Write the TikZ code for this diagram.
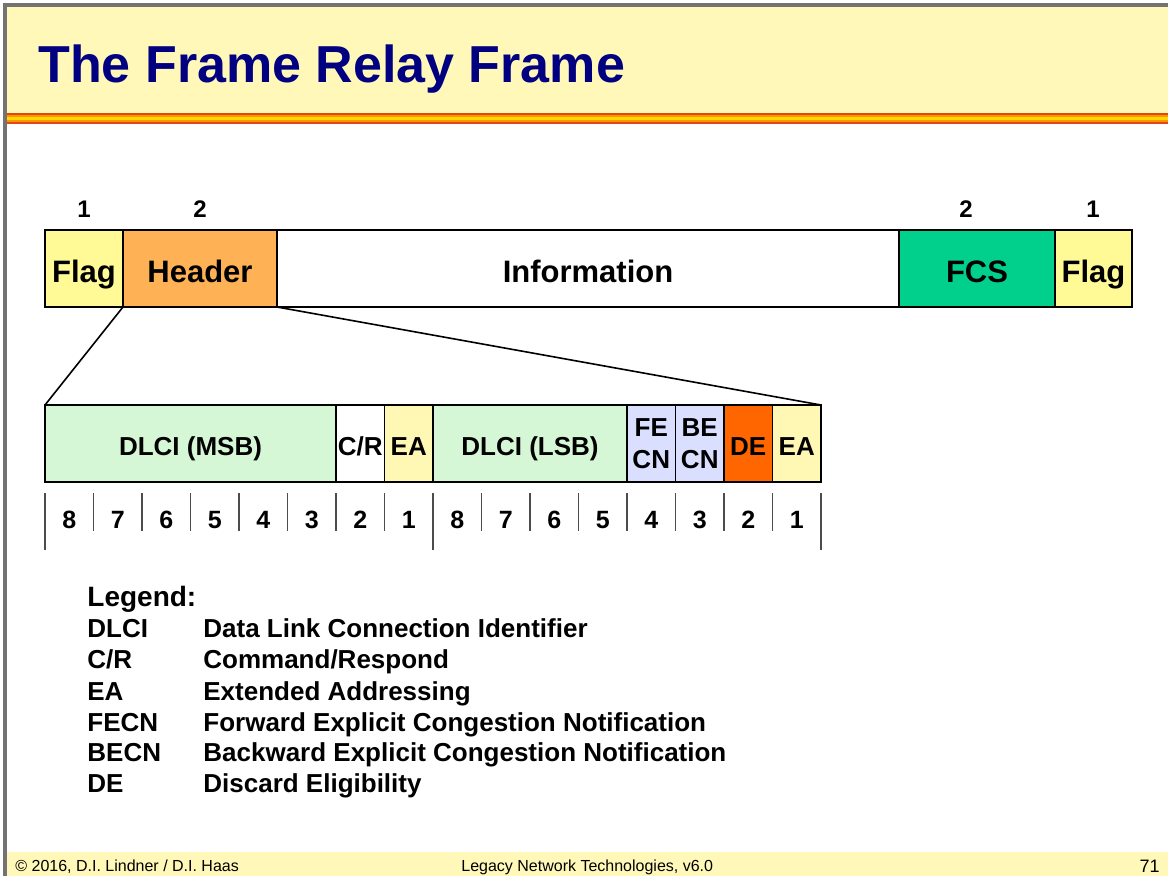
\documentclass[tikz,border=0pt]{standalone}
\usepackage{fontspec}
\setmainfont{Liberation Sans}
\definecolor{titleyel}{RGB}{255,248,185}
\definecolor{navy}{RGB}{0,0,128}
\definecolor{stripered}{RGB}{226,70,20}
\definecolor{stripeorg}{RGB}{250,150,0}
\definecolor{stripeyel}{RGB}{255,215,0}
\definecolor{flagyel}{RGB}{255,250,150}
\definecolor{hdrorange}{RGB}{255,178,85}
\definecolor{fcsgreen}{RGB}{0,208,140}
\definecolor{dlcigreen}{RGB}{214,247,214}
\definecolor{eayel}{RGB}{255,247,180}
\definecolor{cnblue}{RGB}{218,222,255}
\definecolor{deorange}{RGB}{255,102,0}
\begin{document}
\begin{tikzpicture}[x=1pt, y=-1pt, thick,
    field/.style={draw, line width=1.8pt, inner sep=0pt, outer sep=0pt, minimum height=77pt,
      font=\bfseries\fontsize{31}{34}\selectfont, text height=27pt, text depth=0pt},
    subfield/.style={draw, line width=1.8pt, inner sep=0pt, outer sep=0pt, minimum height=77pt,
      font=\bfseries\fontsize{26}{32}\selectfont},
    oneline/.style={text height=23pt, text depth=0pt},
    bytes/.style={anchor=base, font=\bfseries\fontsize{24}{28}\selectfont},
    bitnum/.style={anchor=base, font=\bfseries\fontsize{25}{28}\selectfont},
    tick/.style={draw=black!70, line width=1.2pt},
    legabbr/.style={anchor=base west, inner sep=0pt, font=\bfseries\fontsize{26}{30}\selectfont},
    footer/.style={anchor=base west, inner sep=0pt, font=\fontsize{16}{19}\selectfont}]
  \useasboundingbox (0,0) rectangle (1168,876);

  % 1. title bar and footer
  \fill[titleyel] (5,5) rectangle (1168,113);
  \fill[stripered] (5,112.5) rectangle (1168,123.5);
  \fill[stripeorg] (5,115) rectangle (1168,122);
  \fill[stripeyel] (5,117) rectangle (1168,120);
  \fill[titleyel] (5,852) rectangle (1168,876);
  \draw[black!55, line width=4pt] (5,876) -- (5,5) -- (1168,5);
  \node[anchor=base west, inner sep=0pt, text=navy, font=\bfseries\fontsize{52}{60}\selectfont] (title) at (38,82) {The Frame Relay Frame};

  % 2. frame
  \node[field, fill=flagyel, minimum width=78pt] (flagl) at (84,268.5) {Flag};
  \node[field, fill=hdrorange, minimum width=154pt] (hdr) at (200,268.5) {Header};
  \node[field, fill=white, minimum width=622pt] (info) at (588,268.5) {Information};
  \node[field, fill=fcsgreen, minimum width=156pt] (fcs) at (977,268.5) {FCS};
  \node[field, fill=flagyel, minimum width=77pt] (flagr) at (1093.5,268.5) {Flag};
  \node[bytes] (nflagl) at (84,217) {1};
  \node[bytes] (nhdr) at (200,217) {2};
  \node[bytes] (nfcs) at (966,217) {2};
  \node[bytes] (nflagr) at (1093,217) {1};

  % 3. header fields
  \node[subfield, oneline, fill=dlcigreen, minimum width=291pt] (msb) at (190.5,443.5) {DLCI (MSB)};
  \node[subfield, oneline, fill=white, minimum width=48.5pt] (cr) at (360.25,443.5) {C/R};
  \node[subfield, oneline, fill=eayel, minimum width=48.5pt] (eal) at (408.75,443.5) {EA};
  \node[subfield, oneline, fill=dlcigreen, minimum width=194pt] (lsb) at (530,443.5) {DLCI (LSB)};
  \node[subfield, fill=cnblue, minimum width=48.5pt, align=center] (fecn) at (651.25,443.5) {FE\\CN};
  \node[subfield, fill=cnblue, minimum width=48.5pt, align=center] (becn) at (699.75,443.5) {BE\\CN};
  \node[subfield, oneline, fill=deorange, minimum width=48.5pt] (de) at (748.25,443.5) {DE};
  \node[subfield, oneline, fill=eayel, minimum width=48.5pt] (ear) at (796.75,443.5) {EA};
  \draw[line width=1.6pt] (hdr.south west) -- (msb.north west);
  \draw[line width=1.6pt] (hdr.south east) -- (ear.north east);

  % 4. bit numbers
  \foreach \k in {1,...,16} {
    \pgfmathtruncatemacro{\b}{mod(16-\k,8)+1}
    \node[bitnum] (bit\k) at ({45+48.5*(\k-0.5)},528) {\b};
  }
  \foreach \k in {0,...,16} \draw[tick] ({45+48.5*\k},493) -- ({45+48.5*\k},531);
  \foreach \k in {0,8,16} \draw[tick] ({45+48.5*\k},531) -- ({45+48.5*\k},550);

  % 5. legend
  \node[legabbr, font=\bfseries\fontsize{28}{32}\selectfont] (legend) at (87,606) {Legend:};
  \node[legabbr] (ldlci) at (87,637) {DLCI};
  \node[legabbr] (tdlci) at (203,637) {Data Link Connection Identifier};
  \node[legabbr] (lcr) at (87,668) {C/R};
  \node[legabbr] (tcr) at (203,668) {Command/Respond};
  \node[legabbr] (lea) at (87,700) {EA};
  \node[legabbr] (tea) at (203,700) {Extended Addressing};
  \node[legabbr] (lfecn) at (87,731) {FECN};
  \node[legabbr] (tfecn) at (203,731) {Forward Explicit Congestion Notification};
  \node[legabbr] (lbecn) at (87,761) {BECN};
  \node[legabbr] (tbecn) at (203,761) {Backward Explicit Congestion Notification};
  \node[legabbr] (lde) at (87,792) {DE};
  \node[legabbr] (tde) at (203,792) {Discard Eligibility};

  % 6. footer text
  \node[footer] (copy) at (15,871) {© 2016, D.I. Lindner / D.I. Haas};
  \node[footer] (course) at (461,871) {Legacy Network Technologies, v6.0};
  \node[footer, anchor=base east, font=\fontsize{18}{20}\selectfont] (page) at (1160,872) {71};
\end{tikzpicture}
\end{document}
